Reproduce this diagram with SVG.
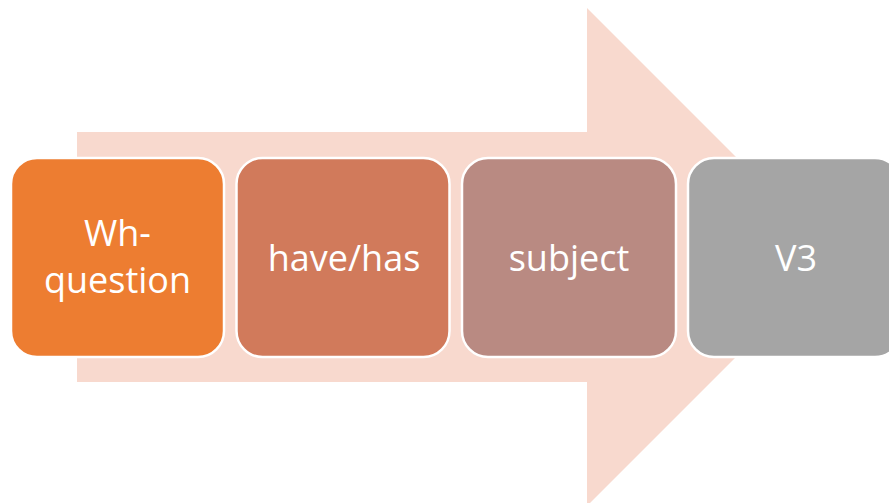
<svg xmlns="http://www.w3.org/2000/svg" width="889" height="503" viewBox="0 0 889 503">
<style>
.box{stroke:#fff;stroke-width:2.5}
.t{font-family:"Open Sans","Noto Sans",sans-serif;font-size:36px;fill:#fff;text-anchor:middle}
</style>
<rect width="889" height="503" fill="#fff"/>
<g id="arrow">
<polygon points="77,132 587,132 587,8 836,257 587,506 587,382 77,382" fill="#F8D9CE"/>
</g>
<g id="n1"><rect class="box" x="11" y="158" width="213" height="199" rx="26" fill="#ED7D31"/>
<text class="t" x="117.5" y="246">Wh-</text><text class="t" x="117.5" y="293">question</text></g>
<g id="n2"><rect class="box" x="236.5" y="158" width="213" height="199" rx="26" fill="#D17A5B"/>
<text class="t" x="344" y="271">have/has</text></g>
<g id="n3"><rect class="box" x="462" y="158" width="214" height="199" rx="26" fill="#B98A82"/>
<text class="t" x="569" y="271">subject</text></g>
<g id="n4"><rect class="box" x="688" y="158" width="213" height="199" rx="26" fill="#A5A5A5"/>
<text class="t" x="796" y="271">V3</text></g>
<g id="connectors"></g>
</svg>
